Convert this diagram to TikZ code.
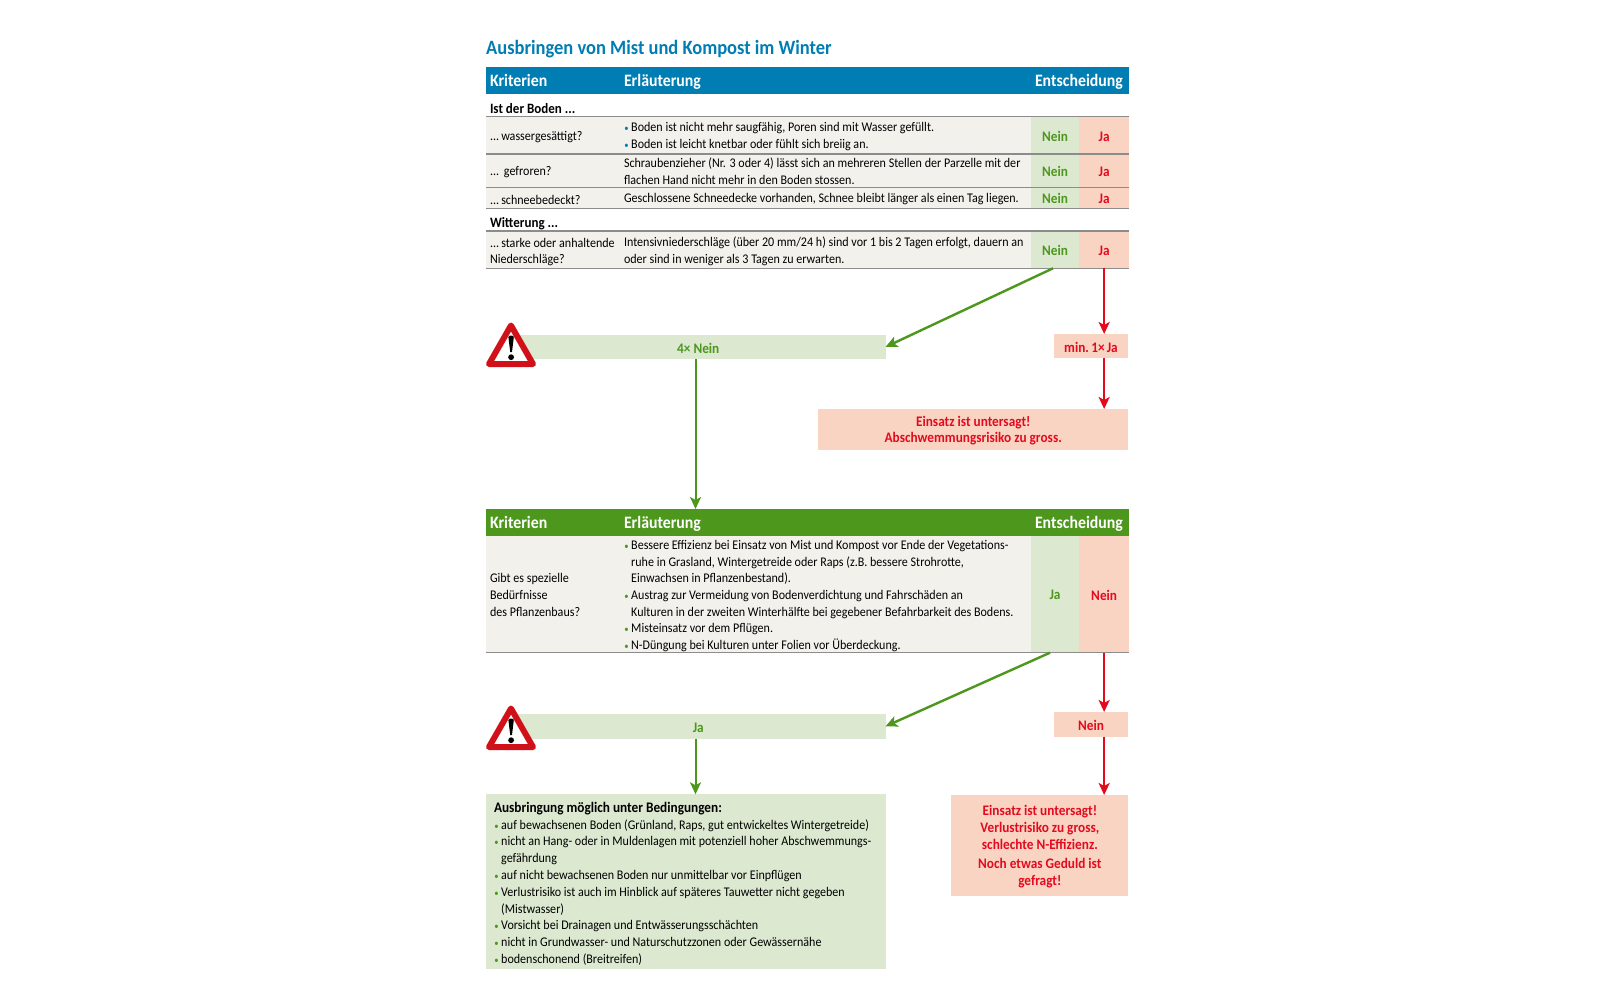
\documentclass[tikz,border=0pt]{standalone}
\usepackage{fontspec}
\setmainfont[FakeStretch=0.91]{Carlito}
\usetikzlibrary{arrows.meta}
\definecolor{blueH}{HTML}{007DB3}
\definecolor{greenH}{HTML}{4C971C}
\definecolor{redT}{HTML}{E30A1E}
\definecolor{greenC}{HTML}{DCE9D0}
\definecolor{redC}{HTML}{FAD4C3}
\definecolor{greyC}{HTML}{F2F1EC}
\definecolor{lineC}{HTML}{8C8C8C}
\definecolor{warnR}{HTML}{D0111A}
\newcommand{\bl}[1]{\makebox[7.2pt][l]{\hspace{0.4pt}\textcolor{#1}{\fontsize{9.5}{16.7}\selectfont\textbullet}}}
\newcommand{\bi}{\hspace{7.2pt}}
\newcommand{\dts}{...\hspace{-1.5pt}}
\tikzset{
 base/.style={inner sep=0pt,outer sep=0pt,anchor=north west},
 txt/.style={inner sep=0pt,outer sep=0pt,anchor=west,align=left,font=\fontsize{13.25}{16.7}\selectfont,text=black},
 hdr/.style={inner sep=0pt,outer sep=0pt,anchor=base west,text=white,font=\fontsize{17.4}{18}\selectfont\bfseries},
 sub/.style={inner sep=0pt,outer sep=0pt,anchor=base west,font=\fontsize{14.3}{16}\selectfont\bfseries},
 nlab/.style={inner sep=0pt,outer sep=0pt,yshift=-1pt,font=\fontsize{14.6}{16.6}\selectfont\bfseries,text=greenH,align=center},
 rlab/.style={inner sep=0pt,outer sep=0pt,yshift=-1pt,font=\fontsize{14.6}{16.6}\selectfont\bfseries,text=redT,align=center},
 garrow/.style={draw=greenH,line width=2.4pt,-{Stealth[length=12pt,width=11pt,inset=3pt]}},
 rarrow/.style={draw=redT,line width=2.4pt,-{Stealth[length=12pt,width=11pt,inset=3pt]}},
 warn/.style={draw=warnR,fill=white,line width=6pt,line join=round},
 rowline/.style={draw=lineC,line width=1.4pt},
}
% fill box: name x y w h colour
\newcommand{\bx}[6]{\node[base,fill=#6,minimum width=#4pt,minimum height=#5pt] (#1) at (#2,#3) {};}
\newcommand{\warnsign}[2]{%
 \begin{scope}[shift={(#1,#2)}]
  \draw[warn] (25,3.5) -- (47,42) -- (3,42) -- cycle;
  \fill[black] (22.4,15) to[bend left=70] (27.8,15) -- (26,30) -- (24.2,30) -- cycle;
  \fill[black] (25.1,35.2) circle (2.9);
 \end{scope}}
\begin{document}
\begin{tikzpicture}[x=1pt,y=-1pt]
\useasboundingbox (0,0) rectangle (1600,984);
\fill[white] (0,0) rectangle (1600,984);
\node[inner sep=0pt,anchor=base west,text=blueH,font=\fontsize{20.3}{22}\selectfont\bfseries] (title) at (486,55) {Ausbringen von Mist und Kompost im Winter};
% table 1 header
\bx{hA}{486}{67.3}{643}{26.7}{blueH}
\node[hdr] (hA1) at (490,86.5) {Kriterien};
\node[hdr] (hA2) at (624,86.5) {Erläuterung};
\node[hdr] (hA3) at (1035,86.5) {Entscheidung};
\node[sub] (s1) at (490,113.5) {Ist der Boden ...};
\node[sub] (s2) at (490,227.5) {Witterung ...};
% rows
\bx{r1}{486}{116.7}{544.7}{37.3}{greyC}
\bx{n1}{1030.7}{116.7}{48.6}{37.3}{greenC}
\bx{j1}{1079.3}{116.7}{49.7}{37.3}{redC}
\bx{r2}{486}{154}{544.7}{33.3}{greyC}
\bx{n2}{1030.7}{154}{48.6}{33.3}{greenC}
\bx{j2}{1079.3}{154}{49.7}{33.3}{redC}
\bx{r3}{486}{187.3}{544.7}{21}{greyC}
\bx{n3}{1030.7}{187.3}{48.6}{21}{greenC}
\bx{j3}{1079.3}{187.3}{49.7}{21}{redC}
\bx{r4}{486}{231}{544.7}{37.3}{greyC}
\bx{n4}{1030.7}{231}{48.6}{37.3}{greenC}
\bx{j4}{1079.3}{231}{49.7}{37.3}{redC}
\foreach \y in {116.7,154,187.3,208.3,231,268.3} \draw[rowline] (486,\y) -- (1129,\y);
\node[txt] (c1) at (490,137) {\dts{} wassergesättigt?};
\node[txt] (c2) at (490,172) {\dts{} \ gefroren?};
\node[txt] (c3) at (490,199.5) {\dts{} schneebedeckt?};
\node[txt] (c4) at (490,252) {\dts{} starke oder anhaltende\\Niederschläge?};
\node[txt] (e1) at (624,136.5) {\bl{blueH}Boden ist nicht mehr saugfähig, Poren sind mit Wasser gefüllt.\\\bl{blueH}Boden ist leicht knetbar oder fühlt sich breiig an.};
\node[txt] (e2) at (624,171.5) {Schraubenzieher (Nr. 3 oder 4) lässt sich an mehreren Stellen der Parzelle mit der\\flachen Hand nicht mehr in den Boden stossen.};
\node[txt] (e3) at (624,199) {Geschlossene Schneedecke vorhanden, Schnee bleibt länger als einen Tag liegen.};
\node[txt] (e4) at (624,251.5) {Intensivniederschläge (über 20 mm/24 h) sind vor 1 bis 2 Tagen erfolgt, dauern an\\oder sind in weniger als 3 Tagen zu erwarten.};
\foreach \i in {1,...,4}{
 \node[nlab] (nt\i) at (n\i) {Nein};
 \node[rlab] (jt\i) at (j\i) {Ja};
}
% decision 1
\bx{b4n}{511}{335}{374.5}{24}{greenC}
\node[nlab] (b4nt) at (b4n) {4× Nein};
\bx{bmin}{1053.7}{334}{74.6}{24}{redC}
\node[rlab] (bmint) at (bmin) {min.\hspace{-1.5pt} 1×\hspace{-1pt} Ja};
\bx{bstop}{818.2}{409}{310.1}{41}{redC}
\node[rlab] (bstopt) at (bstop) {Einsatz ist untersagt!\\Abschwemmungsrisiko zu gross.};
\warnsign{486}{322}
% table 2
\bx{hB}{486}{509}{643}{26.7}{greenH}
\node[hdr] (hB1) at (490,528.7) {Kriterien};
\node[hdr] (hB2) at (624,528.7) {Erläuterung};
\node[hdr] (hB3) at (1035,528.7) {Entscheidung};
\bx{r5}{486}{535.7}{544.7}{117}{greyC}
\bx{n5}{1030.7}{535.7}{48.6}{117}{greenC}
\bx{j5}{1079.3}{535.7}{49.7}{117}{redC}
\draw[rowline] (486,652.7) -- (1129,652.7);
\node[txt] (c5) at (490,595) {Gibt es spezielle\\Bedürfnisse\\des Pflanzenbaus?};
\node[txt] (e5) at (624,596) {\bl{greenH}Bessere Effizienz bei Einsatz von Mist und Kompost vor Ende der Vegetations-\\\bi ruhe in Grasland, Wintergetreide oder Raps (z.B. bessere Strohrotte,\\\bi Einwachsen in Pflanzenbestand).\\\bl{greenH}Austrag zur Vermeidung von Bodenverdichtung und Fahrschäden an\\\bi Kulturen in der zweiten Winterhälfte bei gegebener Befahrbarkeit des Bodens.\\\bl{greenH}Misteinsatz vor dem Pflügen.\\\bl{greenH}N-Düngung bei Kulturen unter Folien vor Überdeckung.};
\node[nlab] (nt5) at (n5) {Ja};
\node[rlab] (jt5) at (j5) {Nein};
% decision 2
\bx{bJa}{511}{714}{374.5}{24.7}{greenC}
\node[nlab] (bJat) at (bJa) {Ja};
\bx{bNein}{1053.7}{712}{74.6}{24.7}{redC}
\node[rlab] (bNeint) at (bNein) {Nein};
\warnsign{486}{705}
\bx{bOK}{486}{794.3}{399.5}{174.4}{greenC}
\node[txt,anchor=north west,font=\fontsize{13.25}{16.8}\selectfont] (bOKt) at (494,802) {{\fontsize{14.6}{16.8}\selectfont\textbf{Ausbringung möglich unter Bedingungen:}}\\\bl{greenH}auf bewachsenen Boden (Grünland, Raps, gut entwickeltes Wintergetreide)\\\bl{greenH}nicht an Hang- oder in Muldenlagen mit potenziell hoher Abschwemmungs-\\\bi gefährdung\\\bl{greenH}auf nicht bewachsenen Boden nur unmittelbar vor Einpflügen\\\bl{greenH}Verlustrisiko ist auch im Hinblick auf späteres Tauwetter nicht gegeben\\\bi (Mistwasser)\\\bl{greenH}Vorsicht bei Drainagen und Entwässerungsschächten\\\bl{greenH}nicht in Grundwasser- und Naturschutzzonen oder Gewässernähe\\\bl{greenH}bodenschonend (Breitreifen)};
\bx{bNo}{951.4}{795}{176.9}{101.3}{redC}
\node[rlab] (bNot) at (bNo) {Einsatz ist untersagt!\\Verlustrisiko zu gross,\\schlechte N-Effizienz.\\[3pt]Noch etwas Geduld ist\\gefragt!};
% connectors
\draw[garrow] ([xshift=-2pt]n4.south) -- (b4n.east);
\draw[garrow,line width=2pt] ([xshift=-2.75pt]b4n.south) -- ([xshift=-2.75pt]b4n.south |- hB.north);
\draw[rarrow] (j4.south) -- (j4.south |- bmin.north);
\draw[rarrow] (j4.south |- bmin.south) -- (j4.south |- bstop.north);
\draw[garrow] ([xshift=-5pt]n5.south) -- (bJa.east);
\draw[rarrow] (j5.south) -- (j5.south |- bNein.north);
\draw[rarrow] (j5.south |- bNein.south) -- (j5.south |- bNo.north);
\draw[garrow,line width=2pt] ([xshift=-2.75pt]bJa.south) -- ([xshift=-2.75pt]bJa.south |- bOK.north);
\end{tikzpicture}
\end{document}
